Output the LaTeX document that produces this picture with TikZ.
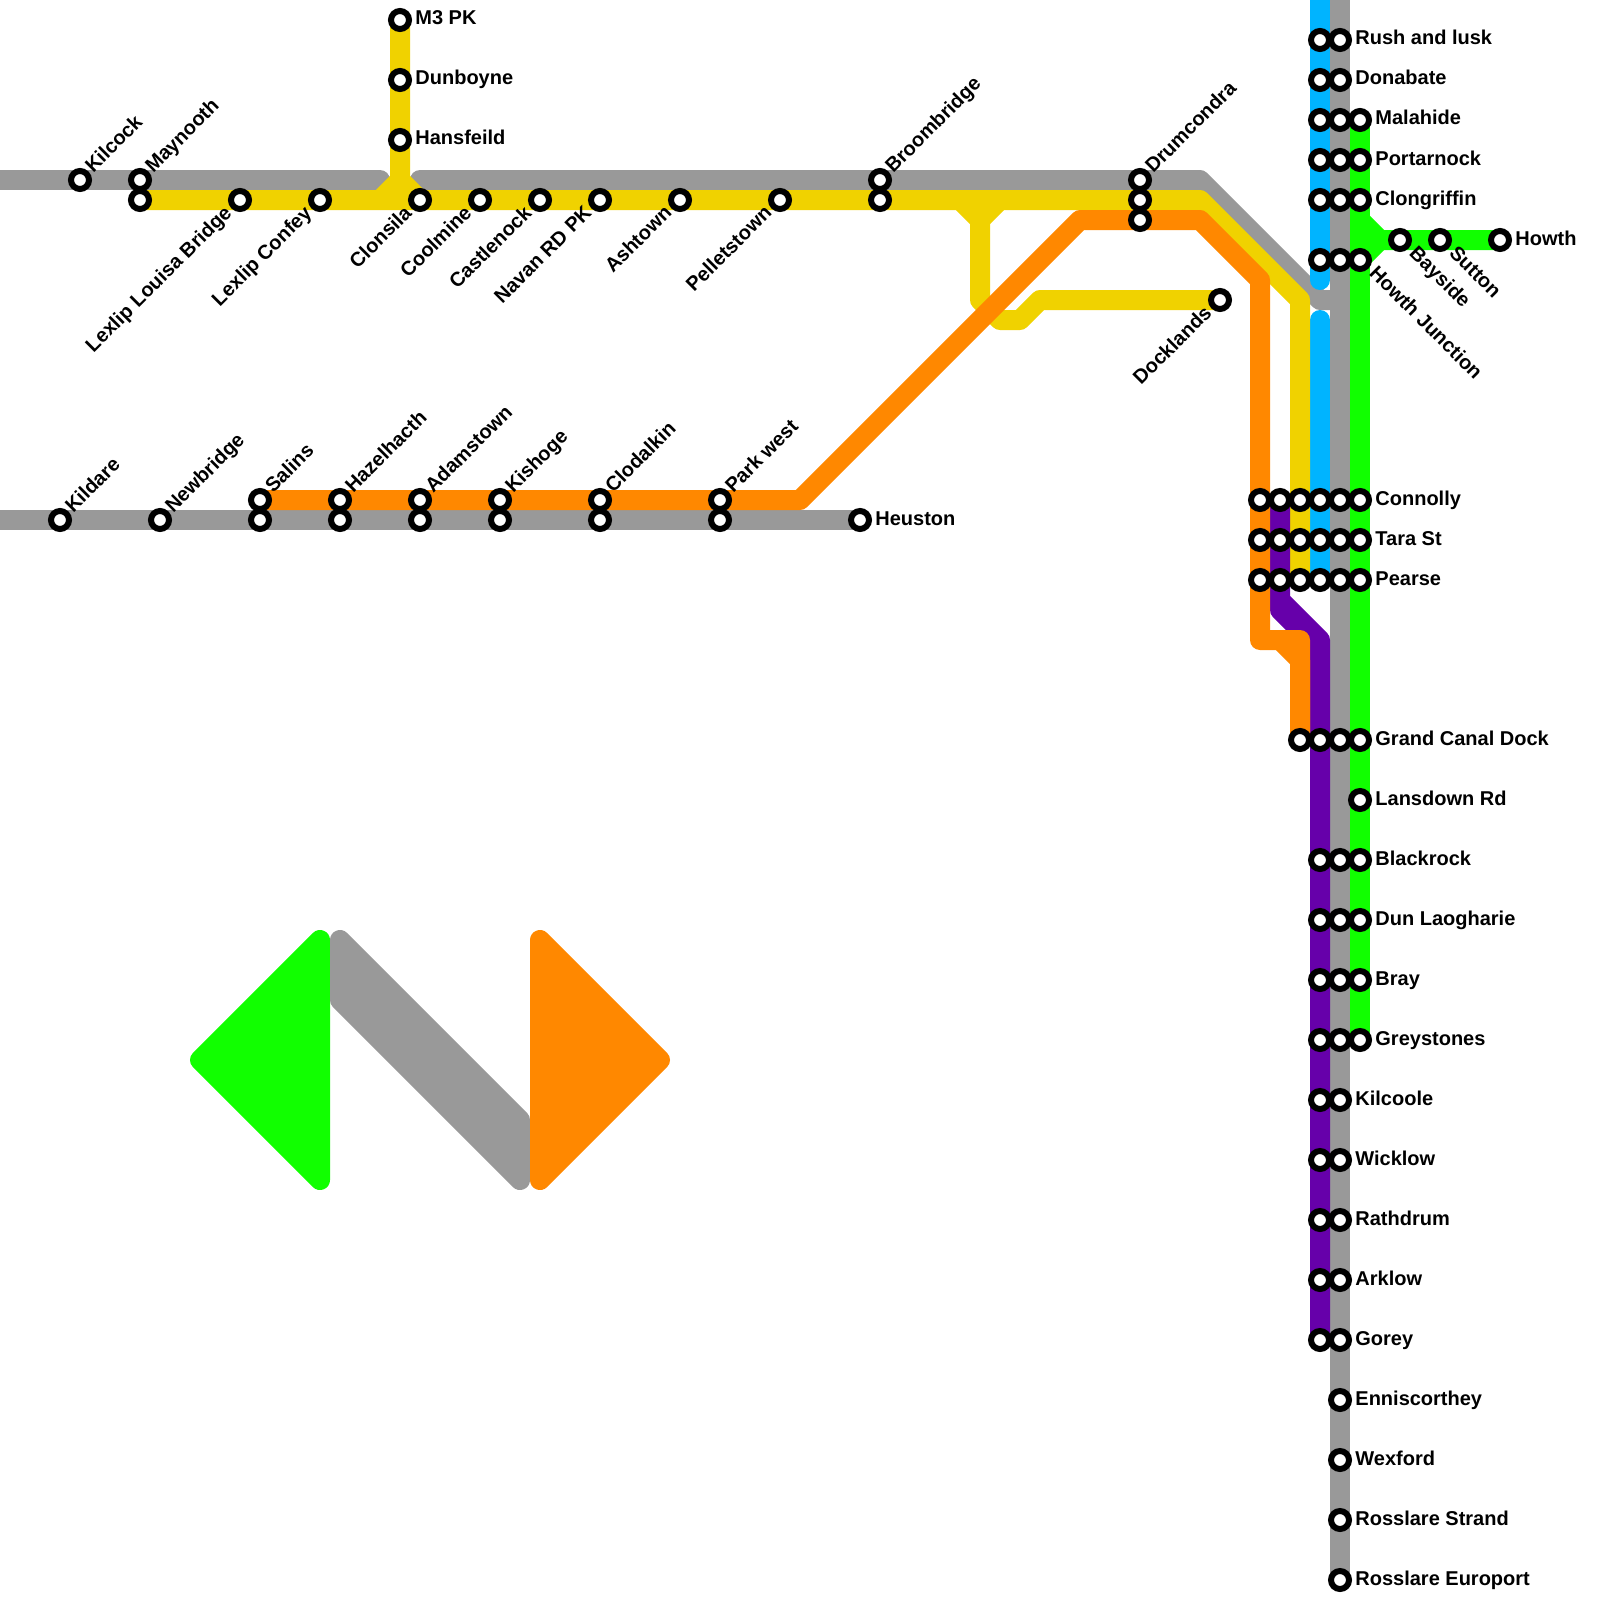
\documentclass[tikz,border=0pt]{standalone}
\usepackage{fontspec}
\setmainfont{Liberation Sans}
\usepackage{xcolor}
\usepackage{tikz}
\usetikzlibrary{backgrounds}
\definecolor{railgrey}{HTML}{999999}
\definecolor{railyellow}{HTML}{F0D200}
\definecolor{railorange}{HTML}{FF8800}
\definecolor{railpurple}{HTML}{6600AA}
\definecolor{railblue}{HTML}{00B4FF}
\definecolor{railgreen}{HTML}{11FF00}

\begin{document}
\begin{tikzpicture}[x=0.5pt,y=-0.5pt,
			station/.style={draw=black,fill=white,circle,line width=3pt,minimum size=9pt,inner sep=0pt,outer sep=0pt},
			rail/.style={line width=10pt,line cap=round,line join=round},
			tagr/.style={font=\bfseries,inner sep=0pt,shift={(15,5)},anchor=base west},
			tagu/.style={font=\bfseries,inner sep=0pt,shift={(13,-6)},rotate=45,anchor=base west},
			tagd/.style={font=\bfseries,inner sep=0pt,shift={(-7,14)},rotate=45,anchor=base east},
			tagh/.style={font=\bfseries,inner sep=0pt,shift={(8,14)},rotate=-45,anchor=base west}
			]
			\useasboundingbox (0,0) rectangle (1600,1600);
			\node [station](kc) at (80,180) {};
			\node [station](my1) at (140,180) {};
			\node [station](my2) at (140,200) {};
			\node [station](ll) at (240,200) {};
			\node [station](lc) at (320,200) {};
			\node [station](m3) at (400,20) {};
			\node [station](db) at (400,80) {};
			\node [station](hf) at (400,140) {};
			\node [station](cs) at (420,200) {};
			\node [station](cm) at (480,200) {};
			\node [station](cn) at (540,200) {};
			\node [station](nv) at (600,200) {};
			\node [station](at) at (680,200) {};
			\node [station](pl) at (780,200) {};
			\node [station](bb1) at (880,180) {};
			\node [station](bb2) at (880,200) {};
			\node [station](dc1) at (1140,180) {};
			\node [station](dc2) at (1140,200) {};
			\node [station](dc3) at (1140,220) {};
			\node [station](dk) at (1220,300) {};
			\node [station](kd) at (60,520) {};
			\node [station](nb) at (160,520) {};
			\node [station](sl1) at (260,500) {};
			\node [station](sl2) at (260,520) {};
			\node [station](hz1) at (340,500) {};
			\node [station](hz2) at (340,520) {};
			\node [station](ad1) at (420,500) {};
			\node [station](ad2) at (420,520) {};
			\node [station](ks1) at (500,500) {};
			\node [station](ks2) at (500,520) {};
			\node [station](cl1) at (600,500) {};
			\node [station](cl2) at (600,520) {};
			\node [station](pw1) at (720,500) {};
			\node [station](pw2) at (720,520) {};
			\node [station](hs) at (860,520) {};
			\node [station](ru1) at (1320,40) {};
			\node [station](ru2) at (1340,40) {};
			\node [station](do1) at (1320,80) {};
			\node [station](do2) at (1340,80) {};
			\node [station](ma1) at (1320,120) {};
			\node [station](ma2) at (1340,120) {};
			\node [station](ma3) at (1360,120) {};
			\node [station](po1) at (1320,160) {};
			\node [station](po2) at (1340,160) {};
			\node [station](po3) at (1360,160) {};
			\node [station](cg1) at (1320,200) {};
			\node [station](cg2) at (1340,200) {};
			\node [station](cg3) at (1360,200) {};
			\node [station](hj1) at (1320,260) {};
			\node [station](hj2) at (1340,260) {};
			\node [station](hj3) at (1360,260) {};
			\node [station](by) at (1400,240) {};
			\node [station](su) at (1440,240) {};
			\node [station](hw) at (1500,240) {};
			\node [station](co1) at (1260,500) {};
			\node [station](co2) at (1280,500) {};
			\node [station](co3) at (1300,500) {};
			\node [station](co4) at (1320,500) {};
			\node [station](co5) at (1340,500) {};
			\node [station](co6) at (1360,500) {};
			\node [station](ta1) at (1260,540) {};
			\node [station](ta2) at (1280,540) {};
			\node [station](ta3) at (1300,540) {};
			\node [station](ta4) at (1320,540) {};
			\node [station](ta5) at (1340,540) {};
			\node [station](ta6) at (1360,540) {};
			\node [station](pe1) at (1260,580) {};
			\node [station](pe2) at (1280,580) {};
			\node [station](pe3) at (1300,580) {};
			\node [station](pe4) at (1320,580) {};
			\node [station](pe5) at (1340,580) {};
			\node [station](pe6) at (1360,580) {};
			\node [station](gc1) at (1300,740) {};
			\node [station](gc2) at (1320,740) {};
			\node [station](gc3) at (1340,740) {};
			\node [station](gc4) at (1360,740) {};
			\node [station](ld) at (1360,800) {};
			\node [station](br1) at (1320,860) {};
			\node [station](br2) at (1340,860) {};
			\node [station](br3) at (1360,860) {};
			\node [station](dl1) at (1320,920) {};
			\node [station](dl2) at (1340,920) {};
			\node [station](dl3) at (1360,920) {};
			\node [station](ba1) at (1320,980) {};
			\node [station](ba2) at (1340,980) {};
			\node [station](ba3) at (1360,980) {};
			\node [station](gr1) at (1320,1040) {};
			\node [station](gr2) at (1340,1040) {};
			\node [station](gr3) at (1360,1040) {};
			\node [station](ko1) at (1320,1100) {};
			\node [station](ko2) at (1340,1100) {};
			\node [station](wi1) at (1320,1160) {};
			\node [station](wi2) at (1340,1160) {};
			\node [station](ra1) at (1320,1220) {};
			\node [station](ra2) at (1340,1220) {};
			\node [station](ar1) at (1320,1280) {};
			\node [station](ar2) at (1340,1280) {};
			\node [station](go1) at (1320,1340) {};
			\node [station](go2) at (1340,1340) {};
			\node [station](en) at (1340,1400) {};
			\node [station](wx) at (1340,1460) {};
			\node [station](rs) at (1340,1520) {};
			\node [station](re) at (1340,1580) {};

			\node [tagu](tkc) at (kc) {Kilcock};
			\node [tagu](tmy) at (my1) {Maynooth};
			\node [tagd](tll) at (ll) {Lexlip Louisa Bridge};
			\node [tagd](tlc) at (lc) {Lexlip Confey};
			\node [tagr](tm3) at (m3) {M3 PK};
			\node [tagr](tdb) at (db) {Dunboyne};
			\node [tagr](thf) at (hf) {Hansfeild};
			\node [tagd](tcs) at (cs) {Clonsila};
			\node [tagd](tcm) at (cm) {Coolmine};
			\node [tagd](tcn) at (cn) {Castlenock};
			\node [tagd](tnv) at (nv) {Navan RD PK};
			\node [tagd](tat) at (at) {Ashtown};
			\node [tagd](tpl) at (pl) {Pelletstown};
			\node [tagu](tbb) at (bb1) {Broombridge};
			\node [tagu](tdc) at (dc1) {Drumcondra};
			\node [tagd](tdk) at (dk) {Docklands};
			\node [tagu](tkd) at (kd) {Kildare};
			\node [tagu](tnb) at (nb) {Newbridge};
			\node [tagu](tsl) at (sl1) {Salins};
			\node [tagu](thz) at (hz1) {Hazelhacth};
			\node [tagu](tad) at (ad1) {Adamstown};
			\node [tagu](tks) at (ks1) {Kishoge};
			\node [tagu](tcl) at (cl1) {Clodalkin};
			\node [tagu](tpw) at (pw1) {Park west};
			\node [tagr](ths) at (hs) {Heuston};
			\node [tagr](tru) at (ru2) {Rush and lusk};
			\node [tagr](tdo) at (do2) {Donabate};
			\node [tagr](tma) at (ma3) {Malahide};
			\node [tagr](tpo) at (po3) {Portarnock};
			\node [tagr](tcg) at (cg3) {Clongriffin};
			\node [tagh](thj) at (hj3) {Howth Junction};
			\node [tagh](tby) at (by) {Bayside};
			\node [tagh](tsu) at (su) {Sutton};
			\node [tagr](thw) at (hw) {Howth};
			\node [tagr](tco) at (co6) {Connolly};
			\node [tagr](tta) at (ta6) {Tara St};
			\node [tagr](tpe) at (pe6) {Pearse};
			\node [tagr](tgc) at (gc4) {Grand Canal Dock};
			\node [tagr](tld) at (ld) {Lansdown Rd};
			\node [tagr](tbr) at (br3) {Blackrock};
			\node [tagr](tdl) at (dl3) {Dun Laogharie};
			\node [tagr](tba) at (ba3) {Bray};
			\node [tagr](tgr) at (gr3) {Greystones};
			\node [tagr](tko) at (ko2) {Kilcoole};
			\node [tagr](twi) at (wi2) {Wicklow};
			\node [tagr](tra) at (ra2) {Rathdrum};
			\node [tagr](tar) at (ar2) {Arklow};
			\node [tagr](tgo) at (go2) {Gorey};
			\node [tagr](ten) at (en) {Enniscorthey};
			\node [tagr](twx) at (wx) {Wexford};
			\node [tagr](trs) at (rs) {Rosslare Strand};
			\node [tagr](tre) at (re) {Rosslare Europort};

			\coordinate (g1) at (0,180);
			\coordinate (g2) at (380,180);
			\coordinate (g3) at (420,180);
			\coordinate (g4) at (1200,180);
			\coordinate (g5) at (1320,300);
			\coordinate (g6) at (1340,300);
			\coordinate (g7) at (0,520);
			\coordinate (g8) at (1340,0);
			\coordinate (b1) at (1320,0);
			\coordinate (b2) at (1320,280);
			\coordinate (b3) at (1320,320);
			\coordinate (l1) at (1360,220);
			\coordinate (l2) at (1380,240);
			\coordinate (y1) at (1200,200);
			\coordinate (y2) at (1300,300);
			\coordinate (y3) at (400,180);
			\coordinate (y4) at (380,200);
			\coordinate (y5) at (420,200);
			\coordinate (y6) at (960,200);
			\coordinate (y7) at (980,220);
			\coordinate (y8) at (1000,200);
			\coordinate (y9) at (980,300);
			\coordinate (y10) at (1000,320);
			\coordinate (y11) at (1020,320);
			\coordinate (y12) at (1040,300);
			\coordinate (o1) at (800,500);
			\coordinate (o2) at (1080,220);
			\coordinate (o3) at (1200,220);
			\coordinate (o4) at (1260,280);
			\coordinate (o5) at (1260,640);
			\coordinate (o6) at (1300,640);
			\coordinate (o7) at (1280,640);
			\coordinate (o8) at (1300,660);
			\coordinate (p1) at (1280,600);
			\coordinate (p2) at (1320,640);
			\coordinate (p3) at (1280,610);
			\coordinate (p4) at (1300,630);

			\begin{scope}[on background layer]
			\draw[rail, railgrey] (g1) -- (g2);
			\draw[rail, railgrey] (g3) -- (g4) -- (g5) -- (g6);
			\draw[rail, railgrey] (g7) -- (hs.center);
			\draw[rail, railgrey] (g8) -- (re.center);
			\draw[rail, railblue] (b1) -- (b2);
			\draw[rail, railblue] (b3) -- (pe4.center);
			\draw[rail, railgreen] (ma3.center) -- (gr3.center);
			\draw[rail, railgreen] (l1) -- (l2) -- (hw.center);
			\draw[rail, railgreen] (hj3.center) -- (l2);
			\draw[rail, railyellow] (my2.center) -- (y1) -- (y2) -- (pe3.center);
			\draw[rail, railyellow] (m3.center) -- (y3) -- (y4);
			\draw[rail, railyellow] (y3) -- (y5);
			\draw[rail, railyellow] (y6) -- (y7) -- (y8);
			\draw[rail, railyellow] (y7) -- (y9) -- (y10) -- (y11) -- (y12) -- (dk.center);
			\draw[rail, railpurple] (co2.center) -- (p1) -- (p2) -- (go1.center);
			\draw[rail, railpurple] (p1) -- (p3) -- (p4);
			\draw[rail, railorange] (sl1.center) -- (o1) -- (o2) -- (o3) -- (o4) -- (o5) -- (o6) -- (gc1.center);
			\draw[rail, railorange] (o7) -- (o8) -- (gc1.center);
			\end{scope}

			\draw[rail, railgreen, fill=railgreen] (320,940) -- (320,1180) -- (200,1060) -- cycle;
			\draw[rail, railgrey, fill=railgrey] (340,940) -- (520,1120) -- (520,1180) -- (340,1000) -- cycle;
			\draw[rail, railorange, fill=railorange] (540,940) -- (540,1180) -- (660,1060) -- cycle;
		\end{tikzpicture}
\end{document}
